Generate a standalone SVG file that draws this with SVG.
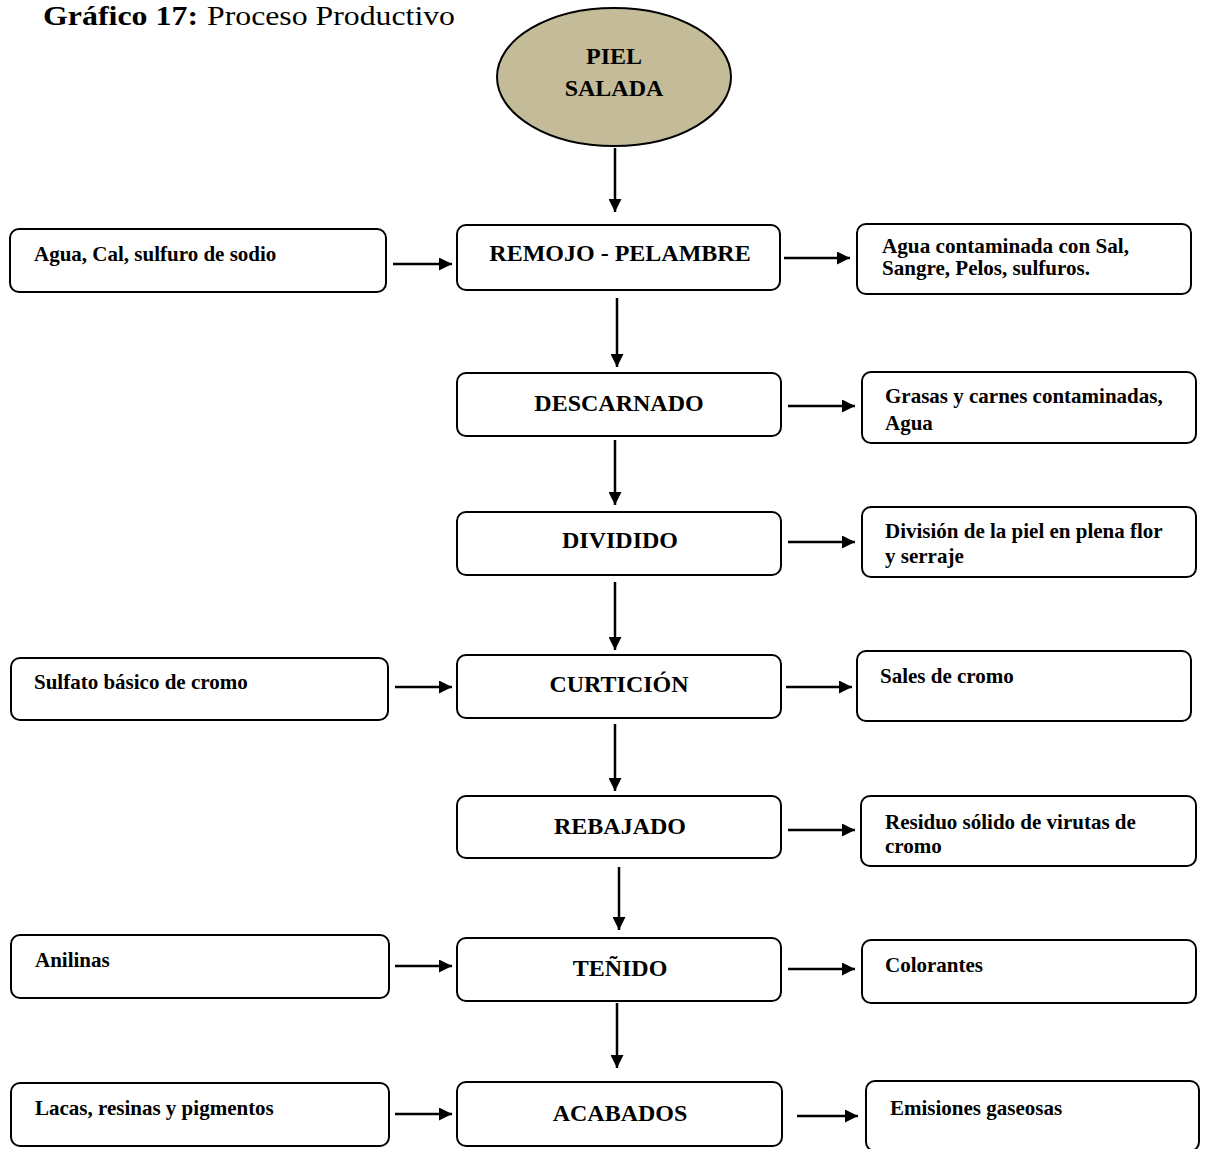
<svg xmlns="http://www.w3.org/2000/svg" width="1205" height="1149" viewBox="0 0 1205 1149">
<defs>
<marker id="ah" viewBox="0 0 12 12" refX="12" refY="6" markerWidth="13" markerHeight="13" markerUnits="userSpaceOnUse" orient="auto">
<path d="M0,0 L12,6 L0,12 Z" fill="#000"/>
</marker>
</defs>
<style>
.box{fill:#fff;stroke:#000;stroke-width:2}
.main{font-family:"Liberation Serif","Times New Roman",serif;font-weight:bold;font-size:24px;text-anchor:middle;fill:#000}
.lbl{font-family:"Liberation Serif","Times New Roman",serif;font-weight:bold;font-size:21px;fill:#000}
.ttl{font-family:"Liberation Serif","Times New Roman",serif;font-size:28px;fill:#000}
.conn line{stroke:#000;stroke-width:2.5;marker-end:url(#ah)}
</style>
<rect width="1205" height="1149" fill="#fff"/>
<g id="title">
<text class="ttl" x="43" y="25" font-weight="bold" textLength="155" lengthAdjust="spacingAndGlyphs">Gráfico 17:</text>
<text class="ttl" x="207" y="25" textLength="248" lengthAdjust="spacingAndGlyphs">Proceso Productivo</text>
</g>

<g id="piel">
<ellipse cx="614" cy="77" rx="117" ry="69" fill="#c4bc98" stroke="#000" stroke-width="2"/>
<text class="main" x="614" y="64" font-size="26">PIEL</text>
<text class="main" x="614" y="96" font-size="26">SALADA</text>
</g>

<g id="remojo"><rect class="box" x="457" y="225" width="323" height="65" rx="9"/><text class="main" x="620" y="261">REMOJO - PELAMBRE</text></g>
<g id="in1"><rect class="box" x="10" y="229" width="376" height="63" rx="9"/><text class="lbl" x="34" y="261">Agua, Cal, sulfuro de sodio</text></g>
<g id="out1"><rect class="box" x="857" y="224" width="334" height="70" rx="9"/><text class="lbl" x="882" y="253" font-size="19" textLength="247" lengthAdjust="spacingAndGlyphs">Agua contaminada con Sal,</text><text class="lbl" x="882" y="275" font-size="19" textLength="208" lengthAdjust="spacingAndGlyphs">Sangre, Pelos, sulfuros.</text></g>

<g id="descarnado"><rect class="box" x="457" y="373" width="324" height="63" rx="9"/><text class="main" x="619" y="411">DESCARNADO</text></g>
<g id="out2"><rect class="box" x="862" y="372" width="334" height="71" rx="9"/><text class="lbl" x="885" y="403">Grasas y carnes contaminadas,</text><text class="lbl" x="885" y="430">Agua</text></g>

<g id="dividido"><rect class="box" x="457" y="512" width="324" height="63" rx="9"/><text class="main" x="620" y="548">DIVIDIDO</text></g>
<g id="out3"><rect class="box" x="862" y="507" width="334" height="70" rx="9"/><text class="lbl" x="885" y="538">División de la piel en plena flor</text><text class="lbl" x="885" y="563">y serraje</text></g>

<g id="curticion"><rect class="box" x="457" y="655" width="324" height="63" rx="9"/><text class="main" x="619" y="692" font-size="25.5">CURTICIÓN</text></g>
<g id="in4"><rect class="box" x="11" y="658" width="377" height="62" rx="9"/><text class="lbl" x="34" y="689">Sulfato básico de cromo</text></g>
<g id="out4"><rect class="box" x="857" y="651" width="334" height="70" rx="9"/><text class="lbl" x="880" y="683">Sales de cromo</text></g>

<g id="rebajado"><rect class="box" x="457" y="796" width="324" height="62" rx="9"/><text class="main" x="620" y="834" font-size="26">REBAJADO</text></g>
<g id="out5"><rect class="box" x="861" y="796" width="335" height="70" rx="9"/><text class="lbl" x="885" y="829">Residuo sólido de virutas de</text><text class="lbl" x="885" y="853">cromo</text></g>

<g id="tenido"><rect class="box" x="457" y="938" width="324" height="63" rx="9"/><text class="main" x="620" y="976" font-size="26">TEÑIDO</text></g>
<g id="in6"><rect class="box" x="11" y="935" width="378" height="63" rx="9"/><text class="lbl" x="35" y="967">Anilinas</text></g>
<g id="out6"><rect class="box" x="862" y="940" width="334" height="63" rx="9"/><text class="lbl" x="885" y="972">Colorantes</text></g>

<g id="acabados"><rect class="box" x="457" y="1082" width="325" height="64" rx="9"/><text class="main" x="620" y="1121" font-size="26">ACABADOS</text></g>
<g id="in7"><rect class="box" x="11" y="1083" width="378" height="63" rx="9"/><text class="lbl" x="35" y="1115">Lacas, resinas y  pigmentos</text></g>
<g id="out7"><rect class="box" x="866" y="1081" width="333" height="70" rx="9"/><text class="lbl" x="890" y="1115">Emisiones gaseosas</text></g>

<g class="conn" id="connectors">
<line x1="615" y1="148" x2="615" y2="212"/>
<line x1="393" y1="264" x2="452" y2="264"/>
<line x1="784" y1="258" x2="850" y2="258"/>
<line x1="617" y1="298" x2="617" y2="367"/>
<line x1="788" y1="406" x2="855" y2="406"/>
<line x1="615" y1="440" x2="615" y2="505"/>
<line x1="788" y1="542" x2="855" y2="542"/>
<line x1="615" y1="582" x2="615" y2="650"/>
<line x1="395" y1="687" x2="452" y2="687"/>
<line x1="786" y1="687" x2="852" y2="687"/>
<line x1="615" y1="724" x2="615" y2="791"/>
<line x1="788" y1="830" x2="855" y2="830"/>
<line x1="619" y1="867" x2="619" y2="930"/>
<line x1="395" y1="966" x2="452" y2="966"/>
<line x1="788" y1="969" x2="855" y2="969"/>
<line x1="617" y1="1003" x2="617" y2="1068"/>
<line x1="395" y1="1114" x2="452" y2="1114"/>
<line x1="797" y1="1116" x2="858" y2="1116"/>
</g>
</svg>
